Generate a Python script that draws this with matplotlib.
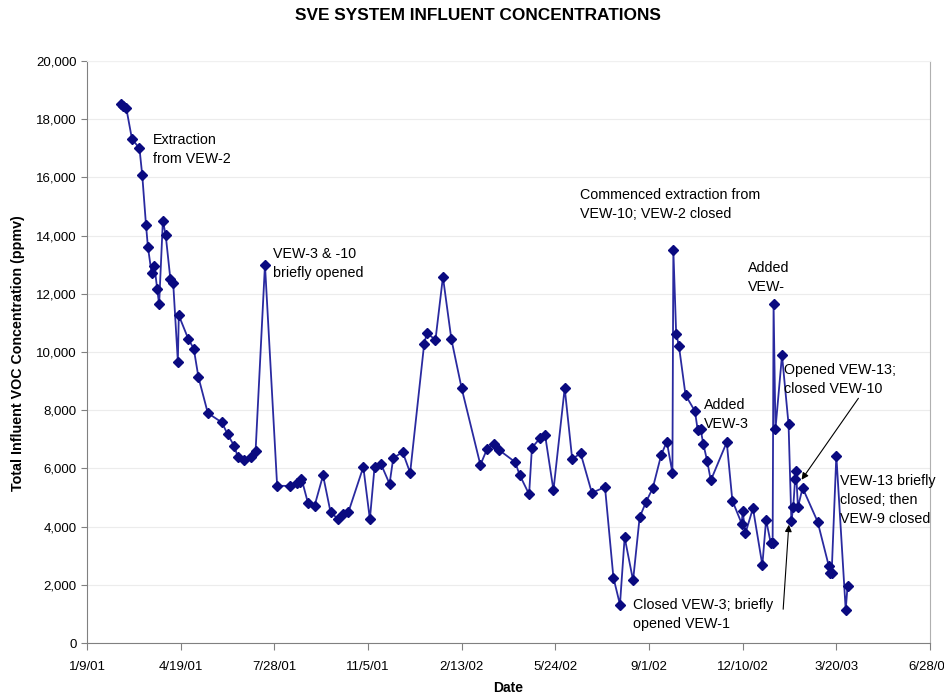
import matplotlib
matplotlib.use("Agg")
import matplotlib.pyplot as plt
from matplotlib.ticker import FuncFormatter, MultipleLocator
import pandas as pd
import datetime as dt

dates = ["2001-02-14","2001-02-16","2001-02-20","2001-02-26","2001-03-06","2001-03-09","2001-03-13","2001-03-15",
         "2001-03-19","2001-03-22","2001-03-25","2001-03-27","2001-03-31","2001-04-03","2001-04-08","2001-04-11",
         "2001-04-16","2001-04-17","2001-04-27","2001-05-03","2001-05-08","2001-05-18","2001-06-02","2001-06-08",
         "2001-06-15","2001-06-19","2001-06-26","2001-07-03","2001-07-08","2001-07-18","2001-07-31","2001-08-14",
         "2001-08-21","2001-08-24","2001-08-26","2001-09-02","2001-09-09","2001-09-18","2001-09-26","2001-10-04",
         "2001-10-09","2001-10-15","2001-10-31","2001-11-07","2001-11-12","2001-11-19","2001-11-28","2001-12-02",
         "2001-12-12","2001-12-20","2002-01-04","2002-01-07","2002-01-16","2002-01-24","2002-02-02","2002-02-13",
         "2002-03-05","2002-03-12","2002-03-19","2002-03-25","2002-04-11","2002-04-16","2002-04-26","2002-04-29",
         "2002-05-08","2002-05-13","2002-05-22","2002-06-03","2002-06-11","2002-06-20","2002-07-02","2002-07-16",
         "2002-07-25","2002-08-01","2002-08-06","2002-08-15","2002-08-22","2002-08-29","2002-09-05","2002-09-14",
         "2002-09-20","2002-09-26","2002-09-27","2002-09-30","2002-10-03","2002-10-10","2002-10-20","2002-10-23",
         "2002-10-26","2002-10-29","2002-11-02","2002-11-06","2002-11-23","2002-11-29","2002-12-09","2002-12-10",
         "2002-12-13","2002-12-21","2002-12-31","2003-01-04","2003-01-09","2003-01-11","2003-01-12","2003-01-14",
         "2003-01-21","2003-01-28","2003-01-31","2003-02-02","2003-02-04","2003-02-05","2003-02-07","2003-02-12",
         "2003-02-28","2003-03-12","2003-03-13","2003-03-15","2003-03-20","2003-03-30","2003-04-01"]
concentration = [18520,18450,18370,17320,17000,16070,14360,13620,
                 12700,12950,12150,11640,14510,14020,12510,12380,
                 9670,11260,10460,10110,9130,7900,7580,7180,
                 6780,6400,6280,6380,6610,13000,5400,5400,
                 5500,5520,5650,4800,4720,5760,4500,4260,
                 4430,4490,6050,4250,6050,6140,5470,6360,
                 6560,5850,10290,10660,10410,12580,10440,8750,
                 6120,6660,6830,6630,6220,5770,5110,6710,
                 7050,7160,5250,8760,6320,6520,5160,5360,
                 2250,1320,3630,2150,4320,4860,5320,6460,
                 6920,5850,13500,10630,10200,8520,7970,7320,
                 7350,6840,6270,5590,6900,4890,4100,4520,
                 3780,4630,2680,4230,3430,3430,11660,7350,
                 9890,7510,4190,4670,5640,5900,4670,5330,
                 4170,2640,2390,2400,6440,1140,1970]

x_start = dt.datetime(2001, 1, 9)
x_end = dt.datetime(2003, 6, 28)

title = "SVE SYSTEM INFLUENT CONCENTRATIONS"
ylabel = "Total Influent VOC Concentration (ppmv)"
xlabel = "Date"

plt.rcParams['font.family'] = ['Liberation Sans', 'DejaVu Sans']

fig = plt.figure(figsize=(9.44, 6.98), dpi=100)
ax = fig.add_axes([87/944, 1-643/698, (930-87)/944, (643-61)/698])

d = pd.to_datetime(dates)
ax.plot(d, concentration, color='#2a2aa0', lw=1.3, marker='D', ms=5,
        mfc='#0a0a80', mec='#0a0a80', zorder=3)

ax.set_xlim(x_start, x_end)
ax.set_ylim(0, 20000)
ticks = [x_start + dt.timedelta(days=100*i) for i in range(10)]
ax.set_xticks(ticks)
ax.set_xticklabels([f"{t.month}/{t.day}/{t.strftime('%y')}" for t in ticks], fontsize=9.5)
ax.yaxis.set_major_locator(MultipleLocator(2000))
ax.yaxis.set_major_formatter(FuncFormatter(lambda v, p: f"{int(v):,}"))
ax.tick_params(axis='y', labelsize=9.5, length=4, color='#808080')
ax.tick_params(axis='x', length=5, color='#808080', pad=8)
ax.grid(axis='y', color='#ececec', lw=0.8)
ax.set_axisbelow(True)
ax.spines['top'].set_color('#f0f0f0')
ax.spines['right'].set_color('#b0b0b0')
ax.spines['left'].set_color('#808080')
ax.spines['bottom'].set_color('#808080')

fig.text(478/944, 1-15/698, title, ha='center', va='center', fontsize=12.4, fontweight='bold')
fig.text(18/944, 1-353/698, ylabel, ha='center', va='center', rotation=90, fontsize=10.3, fontweight='bold')
fig.text(508/944, 1-688/698, xlabel, ha='center', va='center', fontsize=10, fontweight='bold')

def px(x, y):
    return (x/944, 1-y/698)

notes = [
    (153, 133, "Extraction\nfrom VEW-2"),
    (273, 247, "VEW-3 & -10\nbriefly opened"),
    (580, 188, "Commenced extraction from\nVEW-10; VEW-2 closed"),
    (748, 261, "Added\nVEW-"),
    (704, 398, "Added\nVEW-3"),
    (784, 363, "Opened VEW-13;\nclosed VEW-10"),
    (840, 474, "VEW-13 briefly\nclosed; then\nVEW-9 closed"),
    (633, 598, "Closed VEW-3; briefly\nopened VEW-1"),
]
for x, y, s in notes:
    fig.text(x/944, 1-y/698, s, ha='left', va='top', fontsize=10.25, linespacing=1.45)

ax.annotate("", xy=px(800, 482), xycoords='figure fraction', xytext=px(860, 396),
            textcoords='figure fraction',
            arrowprops=dict(arrowstyle='-|>', color='black', lw=0.8, mutation_scale=10))
ax.annotate("", xy=px(789, 522), xycoords='figure fraction', xytext=px(783, 612),
            textcoords='figure fraction',
            arrowprops=dict(arrowstyle='-|>', color='black', lw=0.8, mutation_scale=10))

fig.savefig("out.png", dpi=100)
